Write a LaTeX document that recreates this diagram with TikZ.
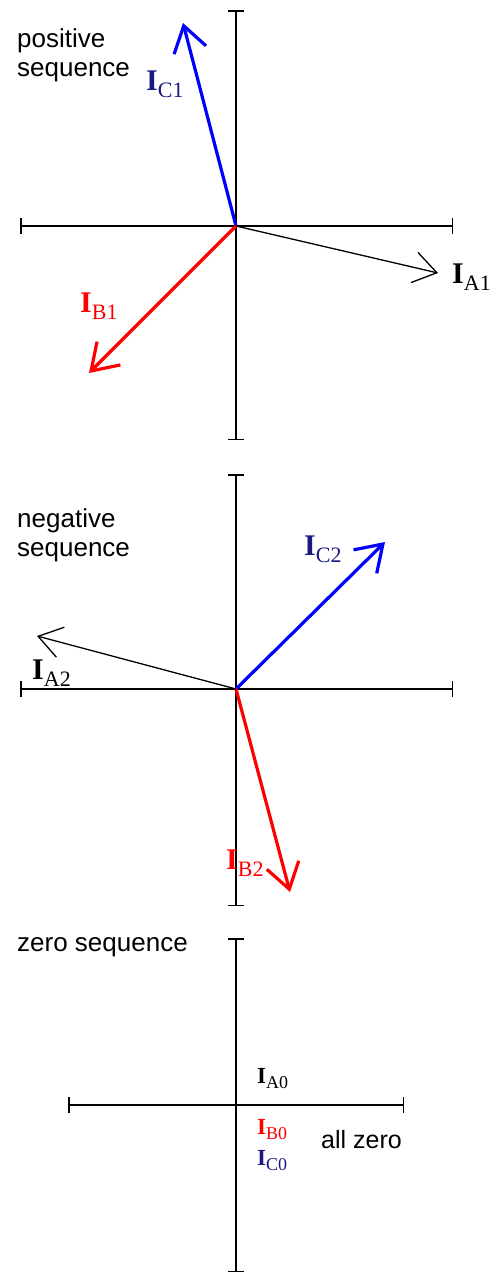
\documentclass[tikz,border=0pt]{standalone}
\usepackage{fontspec}
\setmainfont{Liberation Serif}
\newfontfamily\arialf{Liberation Sans}
\usetikzlibrary{arrows.meta}
\definecolor{lblnavy}{RGB}{25,25,130}
\definecolor{phblue}{RGB}{0,0,255}
\definecolor{phred}{RGB}{255,0,0}
\newcommand{\curbig}[1]{{\fontsize{30}{30}\selectfont\bfseries I}\raisebox{-7pt}{\fontsize{22}{22}\selectfont #1}}
\newcommand{\cursmall}[1]{{\fontsize{23}{23}\selectfont\bfseries I}\raisebox{-5pt}{\fontsize{18}{18}\selectfont #1}}
\begin{document}
\begin{tikzpicture}[x=1pt,y=-1pt,
  axis/.style={line width=1.5pt,{Bar[width=16pt]}-{Bar[width=16pt]}},
  thickph/.style={line width=3.2pt,-{Straight Barb[length=25pt,width=33pt]}},
  thinph/.style={line width=1.3pt,-{Straight Barb[length=23pt,width=31pt]}},
  title/.style={font=\arialf\fontsize{26}{29.5}\selectfont,align=left,anchor=north west,inner sep=0pt},
  lbl/.style={inner sep=0pt,anchor=west}]
\useasboundingbox (0,0) rectangle (500,1275);
% ---------- positive sequence ----------
\coordinate (o1) at (236,226);
\coordinate (v1t) at (236,10); \coordinate (v1b) at (236,440);
\coordinate (h1l) at (20,226); \coordinate (h1r) at (453,226);
\draw[axis] (v1t) -- (v1b);
\draw[axis] (h1l) -- (h1r);
\coordinate (c1) at (183,23);
\coordinate (a1) at (438,273);
\coordinate (b1) at (89,373);
\draw[thickph,phblue] (o1) -- (c1);
\draw[thickph,phred] (o1) -- (b1);
\draw[thinph,black] (o1) -- (a1);
\node[title] (t1) at (17,28) {positive\\sequence};
\node[lbl,text=lblnavy] (lc1) at (146,84) {\curbig{C1}};
\node[lbl,text=black] (la1) at (452,277) {\curbig{A1}};
\node[lbl,text=phred] (lb1) at (80,306) {\curbig{B1}};
% ---------- negative sequence ----------
\coordinate (o2) at (236,689);
\coordinate (v2t) at (236,474); \coordinate (v2b) at (236,906);
\coordinate (h2l) at (20,689); \coordinate (h2r) at (453,689);
\draw[axis] (v2t) -- (v2b);
\draw[axis] (h2l) -- (h2r);
\coordinate (c2) at (385,542);
\coordinate (a2) at (37,636);
\coordinate (b2) at (290,892);
\draw[thickph,phblue] (o2) -- (c2);
\draw[thickph,phred] (o2) -- (b2);
\draw[thinph,black] (o2) -- (a2);
\node[title] (t2) at (17,508) {negative\\sequence};
\node[lbl,text=lblnavy] (lc2) at (304,549) {\curbig{C2}};
\node[lbl,text=black] (la2) at (32,673) {\curbig{A2}};
\node[lbl,text=phred] (lb2) at (226,863) {\curbig{B2}};
% ---------- zero sequence ----------
\coordinate (v3t) at (236,938); \coordinate (v3b) at (236,1272);
\coordinate (h3l) at (68,1105); \coordinate (h3r) at (404,1105);
\draw[axis] (v3t) -- (v3b);
\draw[axis] (h3l) -- (h3r);
\node[title] (t3) at (17,937) {zero sequence};
\node[lbl,text=black] (la0) at (257,1079) {\cursmall{A0}};
\node[lbl,text=phred] (lb0) at (257,1130) {\cursmall{B0}};
\node[lbl,text=lblnavy] (lc0) at (257,1161) {\cursmall{C0}};
\node[font=\arialf\fontsize{25}{29}\selectfont,inner sep=0pt,anchor=west] (az) at (321,1140) {all zero};
\end{tikzpicture}
\end{document}
